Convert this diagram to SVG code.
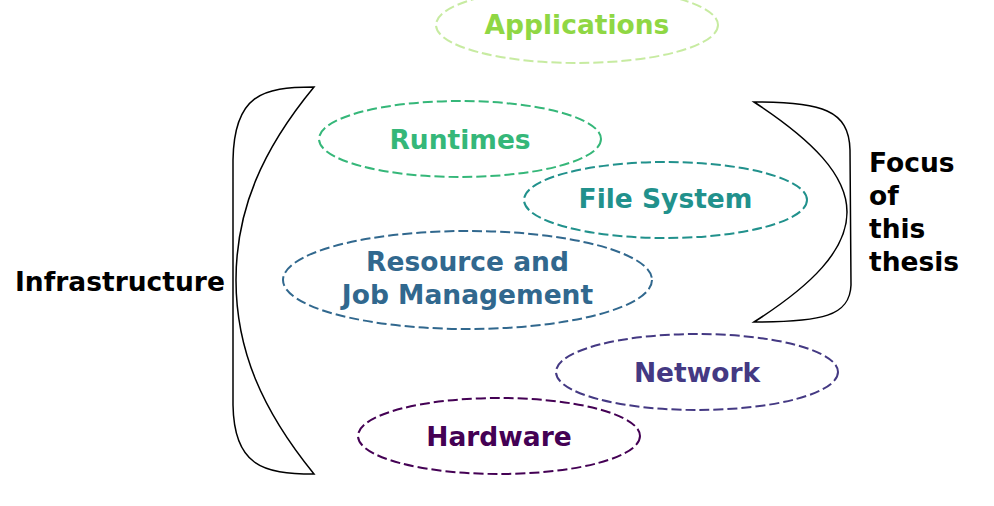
<svg xmlns="http://www.w3.org/2000/svg" width="994" height="506" viewBox="0 0 994 506">
<style>
.n ellipse{fill:none;stroke-width:2;stroke-dasharray:10,4}
text{font-family:"DejaVu Sans",sans-serif;font-weight:bold;font-size:26.5px}
.c{text-anchor:middle}
.brace{fill:none;stroke:#000;stroke-width:1.5}
</style>
<rect width="994" height="506" fill="#fff"/>
<g id="applications" class="n"><ellipse cx="577" cy="25" rx="141" ry="38" stroke="#8fd744" stroke-opacity="0.5"/><text class="c" x="577" y="33.5" fill="#8fd744">Applications</text></g>
<g id="runtimes" class="n"><ellipse cx="460" cy="139" rx="141" ry="38" stroke="#35b779"/><text class="c" x="460" y="148.5" fill="#35b779">Runtimes</text></g>
<g id="filesystem" class="n"><ellipse cx="665.5" cy="200" rx="141.5" ry="38" stroke="#21918c"/><text class="c" x="665.5" y="207.5" fill="#21918c">File System</text></g>
<g id="resource" class="n"><ellipse cx="467.5" cy="280" rx="184.5" ry="49" stroke="#31688e"/><text class="c" x="467.5" y="270.5" fill="#31688e">Resource and</text><text class="c" x="467.5" y="303.5" fill="#31688e">Job Management</text></g>
<g id="network" class="n"><ellipse cx="697" cy="372" rx="141" ry="38" stroke="#443983"/><text class="c" x="697" y="382" fill="#443983">Network</text></g>
<g id="hardware" class="n"><ellipse cx="499" cy="436" rx="141" ry="38" stroke="#440154"/><text class="c" x="499" y="446" fill="#440154">Hardware</text></g>
<g id="infrastructure"><path class="brace" d="M314,87 C262,87 234,95 233,160 L233,405 C234,465 262,474 314,474 C262,410 236,350 236,280 C236,210 262,150 314,87 Z"/><text x="15" y="291" fill="#000">Infrastructure</text></g>
<g id="focus"><path class="brace" d="M754,102 C822,102 849,110 850,150 L851,285 C850,316 822,322 754,322 C812,285 847,250 847,212 C847,175 812,140 754,102 Z"/><text x="869" y="172" fill="#000">Focus</text><text x="869" y="205" fill="#000">of</text><text x="869" y="238" fill="#000">this</text><text x="869" y="271" fill="#000">thesis</text></g>
<g id="connectors"></g>
</svg>
